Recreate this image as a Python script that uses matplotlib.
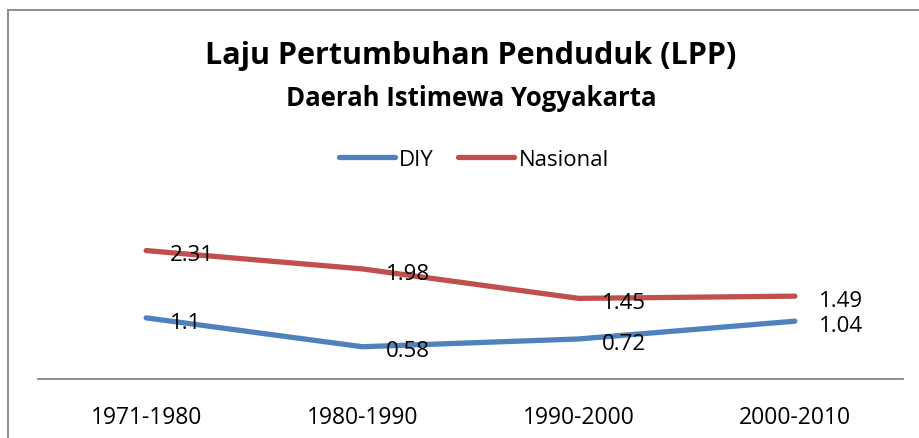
import matplotlib.pyplot as plt
from matplotlib.lines import Line2D

# data
periode = ['1971-1980', '1980-1990', '1990-2000', '2000-2010']
diy = [1.1, 0.58, 0.72, 1.04]
nasional = [2.31, 1.98, 1.45, 1.49]

W, H = 919, 439
plt.rcParams['font.family'] = ['Open Sans', 'DejaVu Sans']

fig = plt.figure(figsize=(W / 100, H / 100), dpi=100)

# chart border (left & top only visible, rest cropped)
fig.add_artist(Line2D([8 / W, 8 / W], [0, 1 - 11 / H], transform=fig.transFigure,
                      color='#868686', lw=1.3))
fig.add_artist(Line2D([8 / W, 1], [1 - 11 / H, 1 - 11 / H], transform=fig.transFigure,
                      color='#868686', lw=1.3))

ax = fig.add_axes([38 / W, (H - 380) / H, 865 / W, 139 / H])
x = list(range(len(periode)))
ax.plot(x, diy, color='#4F81BD', lw=3.8, solid_capstyle='round', label='DIY')
ax.plot(x, nasional, color='#C0504D', lw=3.8, solid_capstyle='round', label='Nasional')

for xs, ys in ((x, diy), (x, nasional)):
    for xi, yi in zip(xs, ys):
        ax.annotate(str(yi), (xi, yi), xytext=(17, -3), textcoords='offset points',
                    ha='left', va='center', fontsize=16)

ax.set_xlim(-0.5, 3.5)
ax.set_ylim(0, 2.5)
ax.set_xticks(x)
ax.set_xticklabels(periode, fontsize=16.5)
ax.tick_params(axis='x', length=0, pad=19)
ax.set_yticks([])
for s in ['top', 'right', 'left']:
    ax.spines[s].set_visible(False)
ax.spines['bottom'].set_color('#868686')
ax.spines['bottom'].set_linewidth(1.3)
ax.patch.set_alpha(0)

fig.text(471 / W, 1 - 56 / H, 'Laju Pertumbuhan Penduduk (LPP)', ha='center', va='center',
         fontsize=22, fontweight='bold')
fig.text(471 / W, 1 - 98 / H, 'Daerah Istimewa Yogyakarta', ha='center', va='center',
         fontsize=18.5, fontweight='bold')

fig.legend(loc='center', bbox_to_anchor=(474 / W, 1 - 160 / H), ncol=2, frameon=False,
           fontsize=16, handlelength=2.5, handletextpad=0.2, columnspacing=1.1)

fig.savefig('out.png', dpi=100)
